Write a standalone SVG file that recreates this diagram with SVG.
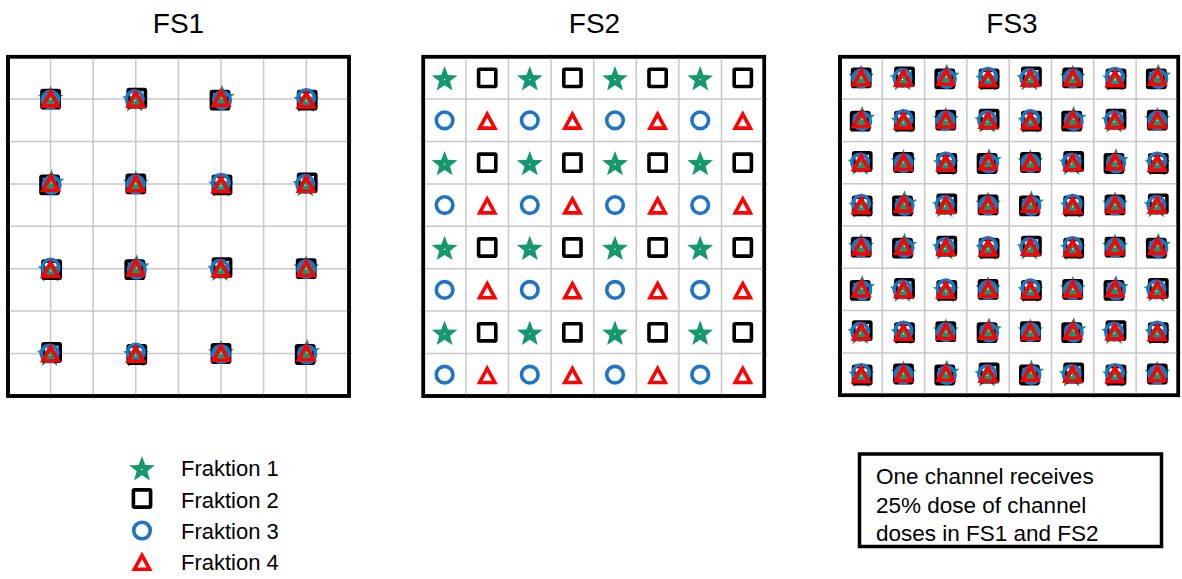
<svg xmlns="http://www.w3.org/2000/svg" xmlns:xlink="http://www.w3.org/1999/xlink" width="1182" height="579" viewBox="0 0 1182 579">
  <style>
    .title { font-family: "Liberation Sans", Arial, sans-serif; font-size: 28px; fill: #000; text-anchor: middle; }
    .label { font-family: "Liberation Sans", Arial, sans-serif; font-size: 22px; fill: #000; }
    .note  { font-family: "Liberation Sans", Arial, sans-serif; font-size: 22.5px; fill: #000; }
    .frame { fill: #fff; stroke: #000; stroke-width: 3.5; }
    .grid  { fill: none; stroke: #c8c8c8; stroke-width: 1.5; }
    .f1 { fill: #15976f; }
    .f2 { fill: none; stroke: #000; stroke-width: 3.6; }
    .f3 { fill: none; stroke: #1f74c4; stroke-width: 3.6; }
    .f4 { fill: none; stroke: #ff0000; stroke-width: 3.6; stroke-linejoin: miter; stroke-miterlimit: 10; }
  </style>
  <defs>
    <!-- fraction markers -->
    <g id="star">
      <path class="f1" d="M0,-13.5 L3.35,-4.61 L12.84,-4.17 L5.43,1.76 L7.94,10.92 L0,5.7 L-7.94,10.92 L-5.43,1.76 L-12.84,-4.17 L-3.35,-4.61 Z"/>
      <circle r="0.8" fill="#e8f5ef"/>
    </g>
    <rect id="square" class="f2" x="-8.6" y="-8.6" width="17.2" height="17.2" rx="1"/>
    <circle id="ring" class="f3" r="8.3"/>
    <path id="tri" class="f4" d="M0,-7.2 L7.6,6.8 L-7.6,6.8 Z"/>

    <!-- all four fractions delivered to the same spot, slightly scattered -->
    <g id="stackA">
      <use href="#star" x="0" y="0"/>
      <use href="#square" x="0" y="0"/>
      <use href="#ring" x="0" y="0.5"/>
      <use href="#tri" x="0" y="0"/>
    </g>
    <g id="stackB">
      <use href="#star" x="-1" y="1.5"/>
      <use href="#square" x="1" y="-1"/>
      <use href="#ring" x="-1" y="0"/>
      <use href="#tri" x="0" y="0.5"/>
    </g>
    <g id="stackC">
      <use href="#star" x="1" y="-1"/>
      <use href="#square" x="-1" y="1"/>
      <use href="#ring" x="1" y="1"/>
      <use href="#tri" x="0" y="-0.5"/>
    </g>
    <g id="stackD">
      <use href="#star" x="0" y="2"/>
      <use href="#square" x="1" y="1"/>
      <use href="#ring" x="0" y="-1"/>
      <use href="#tri" x="0" y="1"/>
    </g>
  </defs>

  <rect width="1182" height="579" fill="#fff"/>

  <!-- FS1: coarse grid, fractions stacked on every second grid crossing -->
  <g id="fs1">
    <text class="title" x="178.5" y="33">FS1</text>
    <rect class="frame" x="8" y="56.7" width="341" height="339.3"/>
    <path class="grid" d="M50.6,54V399 M93.2,54V399 M135.8,54V399 M178.4,54V399 M221,54V399 M263.6,54V399 M306.2,54V399
                          M5,99.1H352 M5,141.5H352 M5,183.9H352 M5,226.3H352 M5,268.7H352 M5,311.1H352 M5,353.5H352"/>
    <rect x="8" y="56.7" width="341" height="339.3" fill="none" stroke="#000" stroke-width="3.5"/>
    <use href="#stackA" x="50.6" y="99.1"/><use href="#stackB" x="135.8" y="99.1"/><use href="#stackC" x="221" y="99.1"/><use href="#stackD" x="306.2" y="99.1"/>
    <use href="#stackC" x="50.6" y="183.9"/><use href="#stackA" x="135.8" y="183.9"/><use href="#stackD" x="221" y="183.9"/><use href="#stackB" x="306.2" y="183.9"/>
    <use href="#stackD" x="50.6" y="268.7"/><use href="#stackC" x="135.8" y="268.7"/><use href="#stackB" x="221" y="268.7"/><use href="#stackA" x="306.2" y="268.7"/>
    <use href="#stackB" x="50.6" y="353.5"/><use href="#stackD" x="135.8" y="353.5"/><use href="#stackA" x="221" y="353.5"/><use href="#stackC" x="306.2" y="353.5"/>
  </g>

  <!-- FS2: each fraction hits its own channel -->
  <g id="fs2">
    <text class="title" x="594.5" y="33">FS2</text>
    <rect class="frame" x="423.3" y="56.7" width="341" height="339.3"/>
    <path class="grid" d="M465.9,54V399 M508.5,54V399 M551.1,54V399 M593.7,54V399 M636.3,54V399 M678.9,54V399 M721.5,54V399
                          M420,99.1H767 M420,141.5H767 M420,183.9H767 M420,226.3H767 M420,268.7H767 M420,311.1H767 M420,353.5H767"/>
    <rect x="423.3" y="56.7" width="341" height="339.3" fill="none" stroke="#000" stroke-width="3.5"/>
    <!-- rows 1,3,5,7: fraction 1 / fraction 2 -->
    <g>
      <use href="#star" x="444.6" y="79.6"/><use href="#square" x="487.2" y="77.9"/><use href="#star" x="529.8" y="79.6"/><use href="#square" x="572.4" y="77.9"/>
      <use href="#star" x="615" y="79.6"/><use href="#square" x="657.6" y="77.9"/><use href="#star" x="700.2" y="79.6"/><use href="#square" x="742.8" y="77.9"/>
      <use href="#star" x="444.6" y="164.4"/><use href="#square" x="487.2" y="162.7"/><use href="#star" x="529.8" y="164.4"/><use href="#square" x="572.4" y="162.7"/>
      <use href="#star" x="615" y="164.4"/><use href="#square" x="657.6" y="162.7"/><use href="#star" x="700.2" y="164.4"/><use href="#square" x="742.8" y="162.7"/>
      <use href="#star" x="444.6" y="249.2"/><use href="#square" x="487.2" y="247.5"/><use href="#star" x="529.8" y="249.2"/><use href="#square" x="572.4" y="247.5"/>
      <use href="#star" x="615" y="249.2"/><use href="#square" x="657.6" y="247.5"/><use href="#star" x="700.2" y="249.2"/><use href="#square" x="742.8" y="247.5"/>
      <use href="#star" x="444.6" y="334"/><use href="#square" x="487.2" y="332.3"/><use href="#star" x="529.8" y="334"/><use href="#square" x="572.4" y="332.3"/>
      <use href="#star" x="615" y="334"/><use href="#square" x="657.6" y="332.3"/><use href="#star" x="700.2" y="334"/><use href="#square" x="742.8" y="332.3"/>
    </g>
    <!-- rows 2,4,6,8: fraction 3 / fraction 4 -->
    <g>
      <use href="#ring" x="444.6" y="120.3"/><use href="#tri" x="487.2" y="121.3"/><use href="#ring" x="529.8" y="120.3"/><use href="#tri" x="572.4" y="121.3"/>
      <use href="#ring" x="615" y="120.3"/><use href="#tri" x="657.6" y="121.3"/><use href="#ring" x="700.2" y="120.3"/><use href="#tri" x="742.8" y="121.3"/>
      <use href="#ring" x="444.6" y="205.1"/><use href="#tri" x="487.2" y="206.1"/><use href="#ring" x="529.8" y="205.1"/><use href="#tri" x="572.4" y="206.1"/>
      <use href="#ring" x="615" y="205.1"/><use href="#tri" x="657.6" y="206.1"/><use href="#ring" x="700.2" y="205.1"/><use href="#tri" x="742.8" y="206.1"/>
      <use href="#ring" x="444.6" y="289.9"/><use href="#tri" x="487.2" y="290.9"/><use href="#ring" x="529.8" y="289.9"/><use href="#tri" x="572.4" y="290.9"/>
      <use href="#ring" x="615" y="289.9"/><use href="#tri" x="657.6" y="290.9"/><use href="#ring" x="700.2" y="289.9"/><use href="#tri" x="742.8" y="290.9"/>
      <use href="#ring" x="444.6" y="374.7"/><use href="#tri" x="487.2" y="375.7"/><use href="#ring" x="529.8" y="374.7"/><use href="#tri" x="572.4" y="375.7"/>
      <use href="#ring" x="615" y="374.7"/><use href="#tri" x="657.6" y="375.7"/><use href="#ring" x="700.2" y="374.7"/><use href="#tri" x="742.8" y="375.7"/>
    </g>
  </g>

  <!-- FS3: every channel receives all four fractions -->
  <g id="fs3">
    <text class="title" x="1012" y="33">FS3</text>
    <rect class="frame" x="840" y="56.7" width="338.3" height="338.6"/>
    <path class="grid" d="M882.3,54V398 M924.6,54V398 M966.9,54V398 M1009.2,54V398 M1051.5,54V398 M1093.8,54V398 M1136.1,54V398
                          M837,99.1H1181 M837,141.4H1181 M837,183.7H1181 M837,226H1181 M837,268.3H1181 M837,310.6H1181 M837,352.9H1181"/>
    <rect x="840" y="56.7" width="338.3" height="338.6" fill="none" stroke="#000" stroke-width="3.5"/>
    <use href="#stackA" x="861.2" y="77.9"/><use href="#stackB" x="903.5" y="77.9"/><use href="#stackC" x="945.8" y="77.9"/><use href="#stackD" x="988.1" y="77.9"/>
    <use href="#stackB" x="1030.4" y="77.9"/><use href="#stackA" x="1072.7" y="77.9"/><use href="#stackD" x="1115" y="77.9"/><use href="#stackC" x="1157.3" y="77.9"/>

    <use href="#stackC" x="861.2" y="120.2"/><use href="#stackD" x="903.5" y="120.2"/><use href="#stackA" x="945.8" y="120.2"/><use href="#stackB" x="988.1" y="120.2"/>
    <use href="#stackD" x="1030.4" y="120.2"/><use href="#stackC" x="1072.7" y="120.2"/><use href="#stackB" x="1115" y="120.2"/><use href="#stackA" x="1157.3" y="120.2"/>

    <use href="#stackB" x="861.2" y="162.5"/><use href="#stackA" x="903.5" y="162.5"/><use href="#stackD" x="945.8" y="162.5"/><use href="#stackC" x="988.1" y="162.5"/>
    <use href="#stackA" x="1030.4" y="162.5"/><use href="#stackB" x="1072.7" y="162.5"/><use href="#stackC" x="1115" y="162.5"/><use href="#stackD" x="1157.3" y="162.5"/>

    <use href="#stackD" x="861.2" y="204.8"/><use href="#stackC" x="903.5" y="204.8"/><use href="#stackB" x="945.8" y="204.8"/><use href="#stackA" x="988.1" y="204.8"/>
    <use href="#stackC" x="1030.4" y="204.8"/><use href="#stackD" x="1072.7" y="204.8"/><use href="#stackA" x="1115" y="204.8"/><use href="#stackB" x="1157.3" y="204.8"/>

    <use href="#stackA" x="861.2" y="247.1"/><use href="#stackC" x="903.5" y="247.1"/><use href="#stackB" x="945.8" y="247.1"/><use href="#stackD" x="988.1" y="247.1"/>
    <use href="#stackB" x="1030.4" y="247.1"/><use href="#stackD" x="1072.7" y="247.1"/><use href="#stackA" x="1115" y="247.1"/><use href="#stackC" x="1157.3" y="247.1"/>

    <use href="#stackC" x="861.2" y="289.4"/><use href="#stackB" x="903.5" y="289.4"/><use href="#stackD" x="945.8" y="289.4"/><use href="#stackA" x="988.1" y="289.4"/>
    <use href="#stackD" x="1030.4" y="289.4"/><use href="#stackA" x="1072.7" y="289.4"/><use href="#stackC" x="1115" y="289.4"/><use href="#stackB" x="1157.3" y="289.4"/>

    <use href="#stackB" x="861.2" y="331.7"/><use href="#stackD" x="903.5" y="331.7"/><use href="#stackA" x="945.8" y="331.7"/><use href="#stackC" x="988.1" y="331.7"/>
    <use href="#stackA" x="1030.4" y="331.7"/><use href="#stackC" x="1072.7" y="331.7"/><use href="#stackB" x="1115" y="331.7"/><use href="#stackD" x="1157.3" y="331.7"/>

    <use href="#stackD" x="861.2" y="374"/><use href="#stackA" x="903.5" y="374"/><use href="#stackC" x="945.8" y="374"/><use href="#stackB" x="988.1" y="374"/>
    <use href="#stackC" x="1030.4" y="374"/><use href="#stackB" x="1072.7" y="374"/><use href="#stackD" x="1115" y="374"/><use href="#stackA" x="1157.3" y="374"/>
  </g>

  <!-- legend -->
  <g id="legend">
    <use href="#star" x="142" y="469.5"/>
    <use href="#square" x="142" y="498.5"/>
    <use href="#ring" x="142" y="530.5"/>
    <use href="#tri" x="142" y="562.5"/>
    <text class="label" x="181" y="476">Fraktion 1</text>
    <text class="label" x="181" y="507.5">Fraktion 2</text>
    <text class="label" x="181" y="539">Fraktion 3</text>
    <text class="label" x="181" y="570">Fraktion 4</text>
  </g>

  <!-- note -->
  <g id="note">
    <rect x="859.5" y="454" width="302" height="92.5" fill="#fff" stroke="#000" stroke-width="3.5"/>
    <text class="note" x="876" y="484">One channel receives</text>
    <text class="note" x="876" y="512.5">25% dose of channel</text>
    <text class="note" x="876" y="540.5">doses in FS1 and FS2</text>
  </g>
</svg>
